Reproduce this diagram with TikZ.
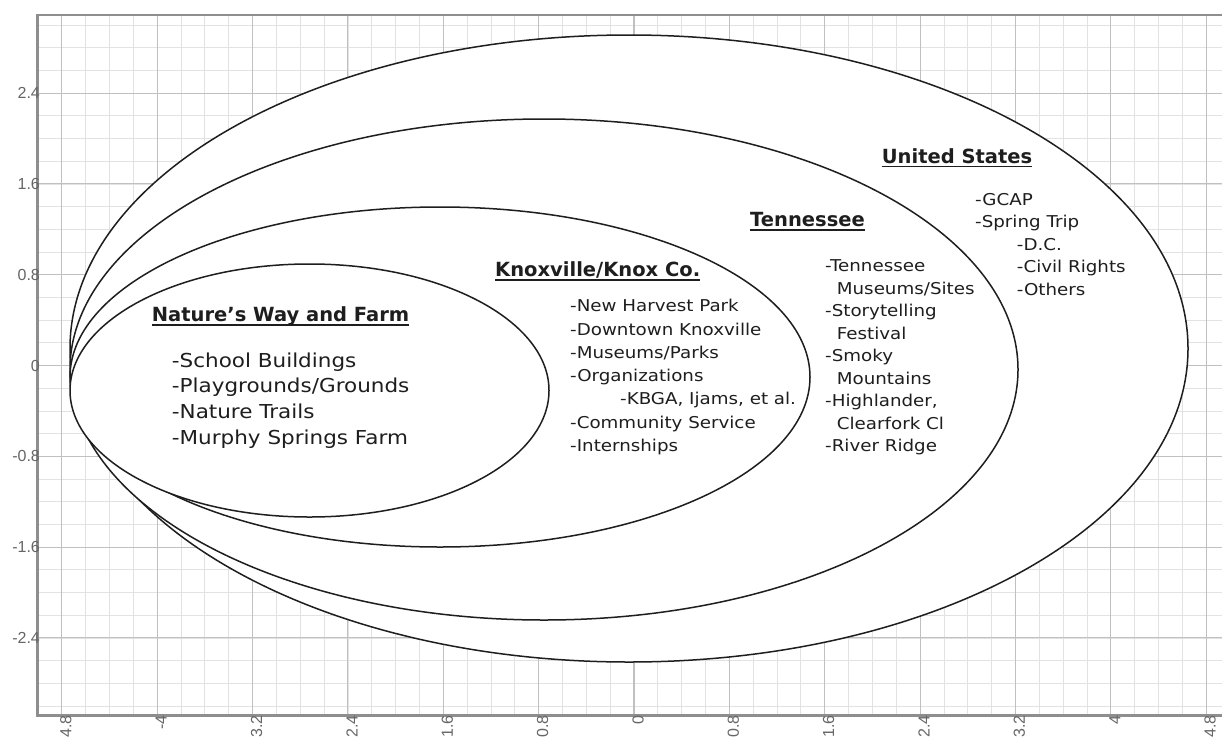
\documentclass[tikz,border=0pt]{standalone}
\usepackage{fontspec}
\setmainfont{DejaVu Sans}
\newfontfamily\itemfont[FakeStretch=1.12]{DejaVu Sans}
\newfontfamily\tickfont{Liberation Sans}
\newsavebox\hdbox
\newcommand\ulhd[1]{\sbox\hdbox{#1}\rlap{\rule[-4pt]{\wd\hdbox}{1.4pt}}\usebox\hdbox}
\definecolor{minorc}{HTML}{E2E2E2}
\definecolor{majorc}{HTML}{C0C0C0}
\definecolor{framec}{HTML}{8E8E8E}
\definecolor{tickc}{HTML}{666666}
\definecolor{inkc}{HTML}{1E1E1E}
\begin{document}
\begin{tikzpicture}[x=1pt,y=-1pt,
  minorline/.style={draw=minorc, line width=0.8pt},
  majorline/.style={draw=majorc, line width=1.1pt},
  frameline/.style={draw=framec, line width=3pt},
  ticklabel/.style={inner sep=0pt, text=tickc, font=\tickfont\fontsize{16}{18}\selectfont},
  ell/.style={draw=inkc, line width=1.5pt, fill=white},
  hd/.style={anchor=base west, inner sep=0pt, text=inkc, font=\bfseries\fontsize{19.5}{22}\selectfont},
  itm/.style={anchor=base west, inner sep=0pt, text=inkc, font=\itemfont\fontsize{16.3}{18}\selectfont},
  itmL/.style={anchor=base west, inner sep=0pt, text=inkc, font=\itemfont\fontsize{19.2}{22}\selectfont}]
\useasboundingbox (0,0) rectangle (1222,736);
\fill[white] (0,0) rectangle (1222,736);
% grid and axes
\begin{scope}[shift={(634,365.5)}, x=23.84pt, y=22.7pt]
  \foreach \i in {-25,...,24} \draw[minorline] (\i,-15.4) -- (\i,15.44);
  \foreach \j in {-15,...,15} \draw[minorline] (-25.04,\j) -- (24.7,\j);
  \foreach \i in {-24,-20,...,24} \draw[majorline] (\i,-15.4) -- (\i,15.44);
  \foreach \j in {-12,-8,...,12} \draw[majorline] (-25.04,\j) -- (24.7,\j);
  \draw[frameline, line width=2.5pt] (-25.04,15.44) -- (24.7,15.44);
  \draw[frameline] (-25.04,15.5) -- (-25.04,-15.4) -- (24.7,-15.4);
  \foreach \i/\v in {-24/-4.8,-20/-4,-16/-3.2,-12/-2.4,-8/-1.6,-4/-0.8,0/0,4/0.8,8/1.6,12/2.4,16/3.2,20/4,24/4.8}
    \node[ticklabel, rotate=90, anchor=east, yshift=-4pt] (xl\i) at (\i,-15.4) {\v};
  \foreach \j/\v in {-12/-2.4,-8/-1.6,-4/-0.8,0/0,4/0.8,8/1.6,12/2.4}
    \node[ticklabel, anchor=east, xshift=3pt] (yl\j) at (-25.04,\j) {\v};
\end{scope}
% nested ellipses
\draw[ell] (629,348.5) ellipse [x radius=559pt, y radius=313.5pt];
\draw[ell] (544,369.5) ellipse [x radius=474pt, y radius=250.5pt];
\draw[ell] (440,377) ellipse [x radius=370pt, y radius=170pt];
\draw[ell] (309.5,390.5) ellipse [x radius=239.5pt, y radius=126.5pt];
% Nature's Way and Farm
\node[hd] (nwh) at (151.7,321.7) {\ulhd{Nature's Way and Farm}};
\node[itmL] (nw1) at (171.7,367.3) {-School Buildings};
\node[itmL] (nw2) at (171.7,392.9) {-Playgrounds/Grounds};
\node[itmL] (nw3) at (171.7,418.5) {-Nature Trails};
\node[itmL] (nw4) at (171.7,444.1) {-Murphy Springs Farm};
% Knoxville
\node[hd] (knh) at (495,276.7) {\ulhd{Knoxville/Knox Co.}};
\node[itm] (kn1) at (570,311.7) {-New Harvest Park};
\node[itm] (kn2) at (570,335.0) {-Downtown Knoxville};
\node[itm] (kn3) at (570,358.3) {-Museums/Parks};
\node[itm] (kn4) at (570,381.6) {-Organizations};
\node[itm] (kn5) at (620,404.9) {-KBGA, Ijams, et al.};
\node[itm] (kn6) at (570,428.2) {-Community Service};
\node[itm] (kn7) at (570,451.5) {-Internships};
% Tennessee
\node[hd] (tnh) at (750,226.7) {\ulhd{Tennessee}};
\node[itm] (tn1) at (825,271.7) {-Tennessee};
\node[itm] (tn2) at (836.7,294.2) {Museums/Sites};
\node[itm] (tn3) at (825,316.7) {-Storytelling};
\node[itm] (tn4) at (836.7,339.2) {Festival};
\node[itm] (tn5) at (825,361.7) {-Smoky};
\node[itm] (tn6) at (836.7,384.2) {Mountains};
\node[itm] (tn7) at (825,406.7) {-Highlander,};
\node[itm] (tn8) at (836.7,429.2) {Clearfork Cl};
\node[itm] (tn9) at (825,451.7) {-River Ridge};
% United States
\node[hd] (ush) at (881.7,163.3) {\ulhd{United States}};
\node[itm] (us1) at (975,205.0) {-GCAP};
\node[itm] (us2) at (975,227.5) {-Spring Trip};
\node[itm] (us3) at (1016.7,250.0) {-D.C.};
\node[itm] (us4) at (1016.7,272.5) {-Civil Rights};
\node[itm] (us5) at (1016.7,295.0) {-Others};
\end{tikzpicture}
\end{document}
